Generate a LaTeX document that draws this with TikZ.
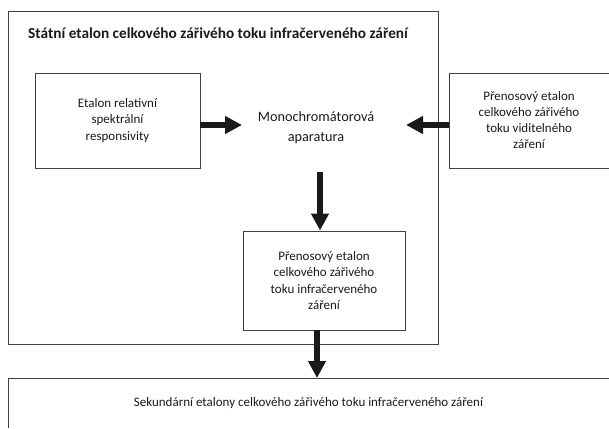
\documentclass[tikz,border=0pt]{standalone}
\usepackage{fontspec}
\setmainfont{Carlito}
\usetikzlibrary{arrows.meta}
\definecolor{boxline}{HTML}{404040}
\definecolor{ink}{HTML}{1A1A1A}
\tikzset{
  box/.style={draw=boxline, line width=0.9pt, align=center, text=ink, font=\fontsize{13}{16.5}\selectfont, inner sep=0pt},
  bigarrow/.style={draw=ink, line width=6pt, -{Triangle[length=17pt,width=17pt]}},
}
\begin{document}
\begin{tikzpicture}[x=1pt,y=-1pt]
\useasboundingbox (0,0) rectangle (609,428);
\clip (0,0) rectangle (609,427.2);
% outer frame
\node (outer) [box, anchor=north west, minimum width=430pt, minimum height=333pt] at (8,11) {};
\node (title) [anchor=west, text=ink, font=\bfseries\fontsize{15.3}{18}\selectfont, inner sep=0pt] at (28,33) {Státní etalon celkového zářivého toku infračerveného záření};
% boxes
\node (left) [box, minimum width=165pt, minimum height=95pt] at (117.5,120.5) {Etalon relativní\\spektrální\\responsivity};
\node (mono) [align=center, text=ink, font=\fontsize{14.3}{20}\selectfont, inner sep=0pt] at (316,128) {Monochromátorová\\aparatura};
\node (right) [box, minimum width=160pt, minimum height=95pt, font=\fontsize{13}{16}\selectfont] at (529,120.5) {Přenosový etalon\\celkového zářivého\\toku viditelného\\záření};
\node (mid) [box, minimum width=162pt, minimum height=99pt] at (324,280.5) {Přenosový etalon\\celkového zářivého\\toku infračerveného\\záření};
\node (bot) [box, anchor=north west, minimum width=612pt, minimum height=50pt] at (8,378) {\hspace*{-12pt}Sekundární etalony celkového zářivého toku infračerveného záření};
% arrow coordinates
\coordinate (row) at (0,125);
\coordinate (tipL) at (242,125);
\coordinate (tipR) at (406,125);
\coordinate (d1) at (320,172);
\coordinate (d2) at (317,330);
% arrows
\draw[bigarrow] (left.east |- row) -- (tipL);
\draw[bigarrow] (right.west |- row) -- (tipR);
\draw[bigarrow] (d1) -- (d1 |- mid.north);
\draw[bigarrow] (d2) -- (d2 |- bot.north);
\end{tikzpicture}
\end{document}
